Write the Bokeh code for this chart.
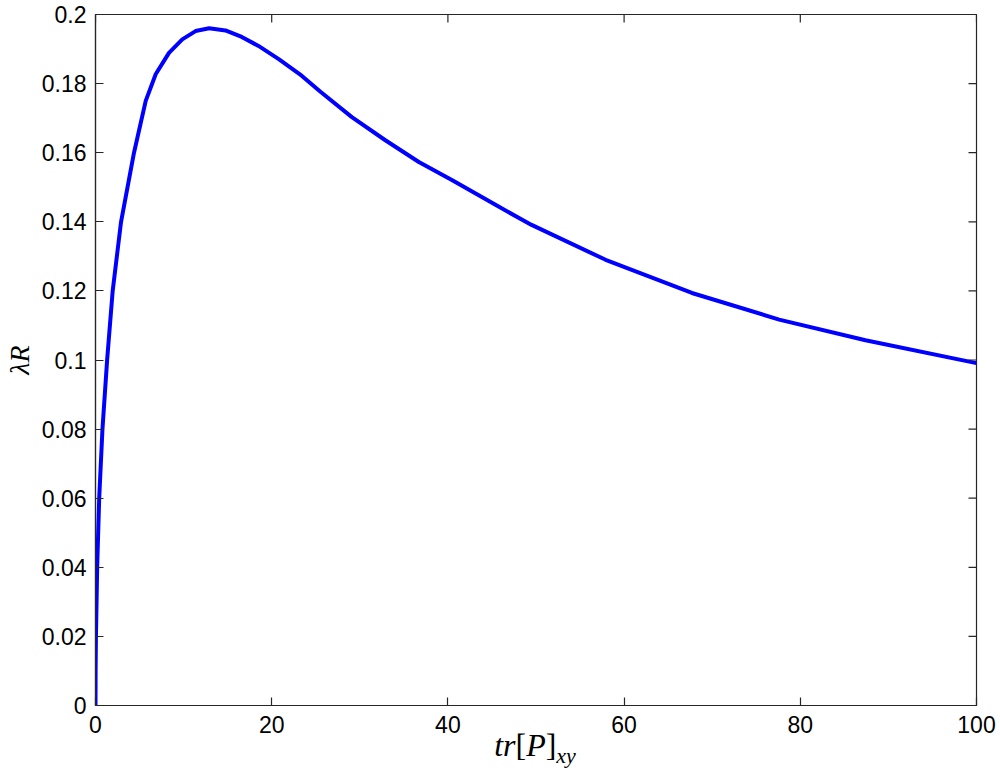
import math
from bokeh.plotting import figure
from bokeh.models import Range1d, FixedTicker, Div
from bokeh.layouts import column
from bokeh.embed import file_html
from bokeh.resources import INLINE

# ---- data ----
tr_p = [0, 0.012, 0.05, 0.19, 0.42, 0.79, 1.32, 1.95, 2.9, 4.37,
        5.7, 6.83, 8.34, 9.85, 11.36, 12.9, 14.75, 16.6, 18.5, 20.8, 23.4,
        25.5, 29.1, 32.9, 36.7, 40.5, 46.1, 49.5, 57.9, 67.7, 77.6, 87.4, 100]
lambda_r = [0, 0.01, 0.02, 0.04, 0.06, 0.08, 0.10, 0.12, 0.14, 0.160,
            0.175, 0.1827, 0.1889, 0.1928, 0.1952, 0.1960, 0.1954,
            0.1935, 0.1909, 0.1871, 0.1823, 0.1777, 0.1703, 0.1636, 0.1573,
            0.152, 0.1439, 0.1391, 0.129, 0.1194, 0.1117, 0.1057, 0.0991]

x_ticks = [0, 20, 40, 60, 80, 100]
x_tick_labels = ["0", "20", "40", "60", "80", "100"]
y_ticks = [0, 0.02, 0.04, 0.06, 0.08, 0.1, 0.12, 0.14, 0.16, 0.18, 0.2]
y_tick_labels = ["0", "0.02", "0.04", "0.06", "0.08", "0.1", "0.12", "0.14",
                 "0.16", "0.18", "0.2"]
y_label = "λR"

x_min, x_max = x_ticks[0], x_ticks[-1]
y_min, y_max = y_ticks[0], y_ticks[-1]

AX = "#262626"

p = figure(width=1000, height=741, output_backend="svg", toolbar_location=None,
           x_range=Range1d(x_min, x_max), y_range=Range1d(y_min, y_max),
           min_border_left=93, min_border_right=24, min_border_top=14,
           min_border_bottom=36)
p.background_fill_color = "white"
p.border_fill_color = "white"
p.outline_line_color = AX
p.outline_line_width = 1.2
p.xgrid.visible = False
p.ygrid.visible = False

p.line(tr_p, lambda_r, line_color="#0000ff", line_width=4)

def style(ax, ticks, labels):
    ax.ticker = FixedTicker(ticks=ticks)
    ax.major_label_overrides = {t: l for t, l in zip(ticks, labels)}
    ax.major_tick_in = 8
    ax.major_tick_out = 0
    ax.minor_tick_line_color = None
    ax.axis_line_color = AX
    ax.major_tick_line_color = AX
    ax.axis_line_width = 1.2
    ax.major_tick_line_width = 1.2
    ax.major_label_text_font = "Liberation Sans"
    ax.major_label_text_color = "black"
    ax.major_label_text_font_size = "23px"

style(p.xaxis[0], x_ticks, x_tick_labels)
style(p.yaxis[0], y_ticks, y_tick_labels)
p.xaxis[0].major_label_standoff = 10
p.yaxis[0].major_label_standoff = 9

p.yaxis[0].axis_label = y_label
p.yaxis[0].axis_label_text_font = "Liberation Serif"
p.yaxis[0].axis_label_text_font_style = "italic"
p.yaxis[0].axis_label_text_font_size = "28px"
p.yaxis[0].axis_label_text_color = "black"
p.yaxis[0].axis_label_standoff = 4

# inward ticks on the top and right edges (half of each dash is clipped by the frame)
p.scatter([x_max] * len(y_ticks), y_ticks, marker="dash", size=16,
          line_color=AX, line_width=1.2)
p.scatter(x_ticks, [y_max] * len(x_ticks), marker="dash", size=16,
          angle=math.pi / 2, line_color=AX, line_width=1.2)

# x-axis label with a real subscript
x_label_html = ('<div style="position:relative; top:-12px; width:1000px; '
                'text-align:center; font-family:\'Liberation Serif\'; '
                'font-size:32px; line-height:1; color:black; padding-left:70px; '
                'box-sizing:border-box;">'
                '<i>tr</i>[<i>P</i>]<sub style="font-size:22px;"><i>xy</i></sub>'
                '</div>')
xlab = Div(text=x_label_html, width=1000, height=38, margin=(0, 0, 0, 0))

layout = column(p, xlab, spacing=0)

open("out.html", "w").write(file_html(layout, INLINE))
